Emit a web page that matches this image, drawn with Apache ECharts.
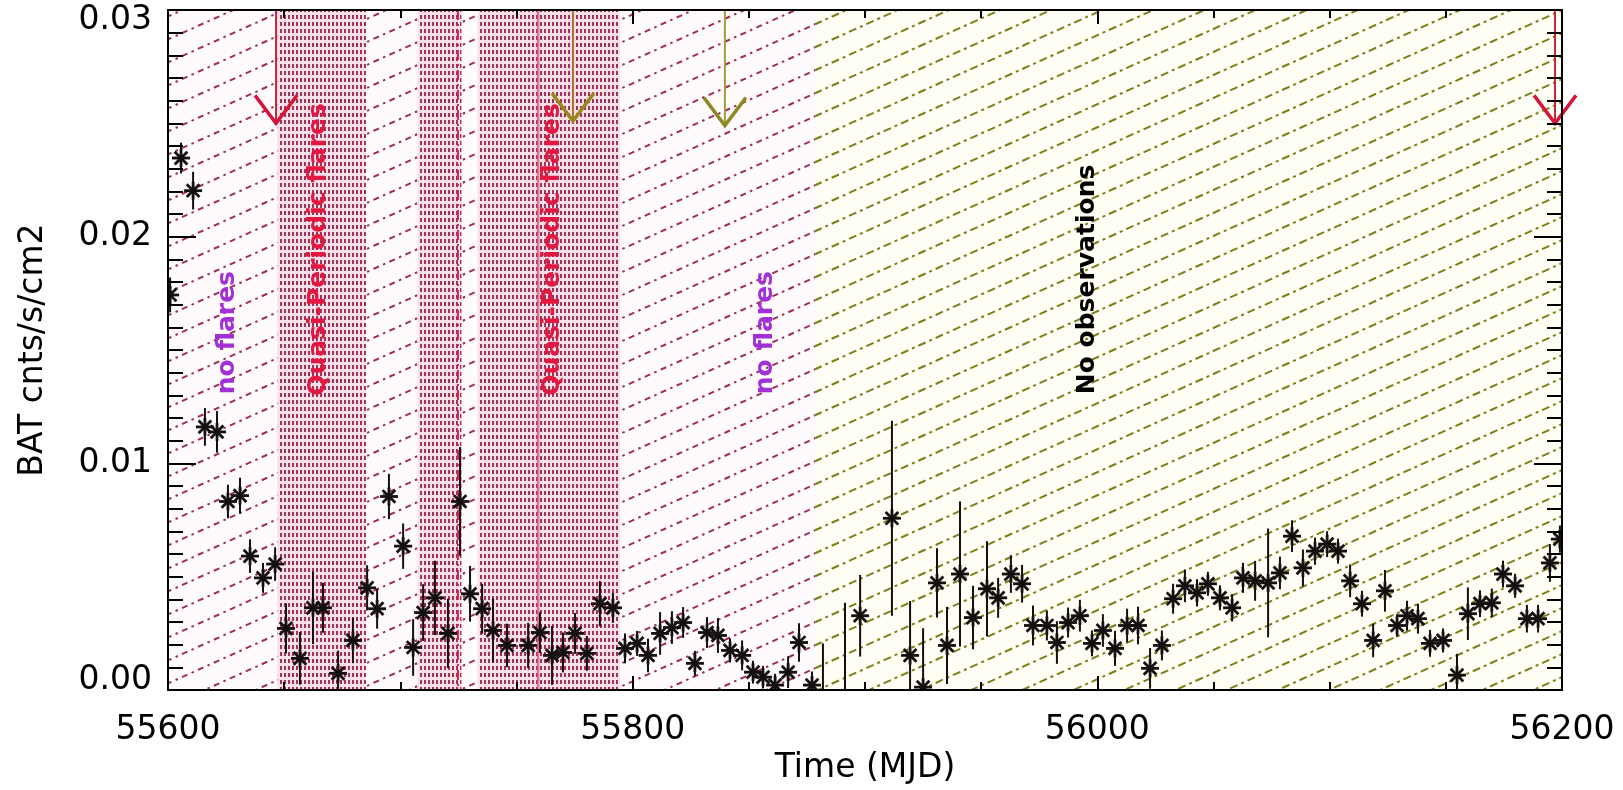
<!DOCTYPE html>
<html>
<head>
<meta charset="utf-8">
<script src="https://cdn.jsdelivr.net/npm/echarts@6/dist/echarts.min.js"></script>
<style>
  html, body { margin: 0; padding: 0; background: #ffffff; }
  #chart { width: 1623px; height: 790px; }
</style>
</head>
<body>
<div id="chart"></div>
<script>
// Swift/BAT light curve, MJD 55600 - 56200

// observation epochs (MJD)
const mjd = [
  55600.9, 55605.6, 55610.8, 55615.9, 55621.1, 55625.8, 55631.0, 55635.3, 55640.9, 55646.1,
  55650.8, 55656.8, 55662.4, 55666.7, 55673.2, 55679.6, 55685.7, 55690.0, 55695.1, 55701.2,
  55705.5, 55709.8, 55714.9, 55720.5, 55725.7, 55730.0, 55735.2, 55739.9, 55745.9, 55755.0,
  55760.1, 55765.3, 55770.0, 55775.2, 55780.3, 55785.9, 55791.5, 55796.7, 55801.9, 55806.6,
  55811.8, 55816.9, 55821.7, 55826.8, 55832.0, 55836.7, 55841.9, 55847.1, 55851.8, 55856.1,
  55861.3, 55866.9, 55871.6, 55877.2, 55881.9, 55891.4, 55897.9, 55911.6, 55919.4, 55925.0,
  55931.0, 55935.3, 55940.9, 55946.5, 55952.5, 55957.3, 55962.8, 55967.6, 55972.3, 55978.3,
  55982.6, 55987.4, 55992.5, 55997.7, 56002.4, 56007.6, 56012.8, 56017.5, 56022.7, 56027.8,
  56032.6, 56037.7, 56042.9, 56047.6, 56052.8, 56058.0, 56062.7, 56067.9, 56073.5, 56078.6,
  56083.8, 56088.5, 56093.7, 56098.9, 56103.6, 56108.8, 56113.9, 56118.7, 56123.8, 56129.0,
  56133.3, 56138.0, 56143.2, 56148.8, 56154.8, 56159.5, 56164.7, 56169.8, 56174.6, 56179.8,
  56184.9, 56189.7, 56194.8, 56199.1
];

// BAT count rate (cnts/s/cm2)
const rate = [
  0.01743, 0.02347, 0.02203, 0.01161, 0.01139, 0.00832, 0.00858, 0.00591, 0.00495, 0.00556,
  0.00272, 0.00140, 0.00363, 0.00363, 0.00074, 0.00219, 0.00451, 0.00359, 0.00854, 0.00635,
  0.00188, 0.00342, 0.00407, 0.00250, 0.00832, 0.00425, 0.00359, 0.00263, 0.00197, 0.00197,
  0.00254, 0.00153, 0.00166, 0.00250, 0.00162, 0.00381, 0.00363, 0.00184, 0.00206, 0.00153,
  0.00250, 0.00276, 0.00298, 0.00118, 0.00254, 0.00241, 0.00175, 0.00153, 0.00079, 0.00057,
  0.00022, 0.00079, 0.00210, 0.00022, -0.00080, -0.00120, 0.00328, 0.00758, 0.00153, 0.00013,
  0.00473, 0.00197, 0.00512, 0.00320, 0.00447, 0.00407, 0.00512, 0.00469, 0.00285, 0.00285,
  0.00210, 0.00298, 0.00328, 0.00206, 0.00263, 0.00184, 0.00285, 0.00285, 0.00096, 0.00197,
  0.00403, 0.00460, 0.00429, 0.00469, 0.00407, 0.00363, 0.00495, 0.00482, 0.00473, 0.00517,
  0.00679, 0.00539, 0.00613, 0.00644, 0.00613, 0.00482, 0.00381, 0.00219, 0.00438, 0.00285,
  0.00328, 0.00315, 0.00206, 0.00219, 0.00066, 0.00337, 0.00381, 0.00385, 0.00512, 0.00460,
  0.00315, 0.00315, 0.00561, 0.00666
];

// 1-sigma uncertainty on the rate
const rateErr = [
  0.00077, 0.00068, 0.00083, 0.00083, 0.00092, 0.00074, 0.00079, 0.00074, 0.00066, 0.00074,
  0.00110, 0.00116, 0.00160, 0.00110, 0.00100, 0.00100, 0.00100, 0.00088, 0.00100, 0.00100,
  0.00125, 0.00125, 0.00164, 0.00153, 0.00240, 0.00123, 0.00110, 0.00140, 0.00096, 0.00100,
  0.00090, 0.00130, 0.00088, 0.00090, 0.00077, 0.00100, 0.00066, 0.00066, 0.00055, 0.00074,
  0.00094, 0.00072, 0.00068, 0.00055, 0.00068, 0.00077, 0.00053, 0.00066, 0.00050, 0.00050,
  0.00050, 0.00070, 0.00085, 0.00060, 0.00286, 0.00505, 0.00180, 0.00430, 0.00240, 0.00260,
  0.00153, 0.00170, 0.00320, 0.00140, 0.00210, 0.00088, 0.00083, 0.00083, 0.00088, 0.00066,
  0.00094, 0.00066, 0.00070, 0.00057, 0.00072, 0.00077, 0.00074, 0.00083, 0.00090, 0.00066,
  0.00066, 0.00072, 0.00060, 0.00053, 0.00055, 0.00060, 0.00066, 0.00088, 0.00240, 0.00072,
  0.00070, 0.00081, 0.00060, 0.00057, 0.00055, 0.00072, 0.00057, 0.00074, 0.00092, 0.00050,
  0.00066, 0.00066, 0.00059, 0.00053, 0.00094, 0.00116, 0.00059, 0.00063, 0.00059, 0.00053,
  0.00061, 0.00061, 0.00083, 0.00060
];

// axis ranges and tick labels
const X_MIN = 55600, X_MAX = 56200, X_STEP = 200;
const Y_MIN = 0, Y_MAX = 0.03, Y_STEP = 0.01;
const xTickLabels = ['55600', '55800', '56000', '56200'];
const yTickLabels = ['0.00', '0.01', '0.02', '0.03'];

// hatched activity intervals: [start, end, kind]  (0 = flaring epoch, 1 = later epoch)
const hatchStart = [55600, 55878.5];
const hatchEnd   = [55878.5, 56200];
const hatchKind  = [0, 1];

// quasi-periodic flaring windows (dotted)
const qpStart = [55647.3, 55707.6, 55733.4];
const qpEnd   = [55685.2, 55726.3, 55794.5];

// vertical reference epochs: kind 0 = dash-dot, 1 = solid
const refDay  = [55724.8, 55759.3];
const refKind = [0, 1];

// downward arrows: epoch, tip level, colour kind
const arrowDay  = [55646.5, 55774.3, 55839.7, 56197.0];
const arrowTip  = [0.0250, 0.0251, 0.0249, 0.0250];
const arrowKind = [0, 1, 2, 0];

// vertical annotations: text, epoch, start level, colour kind
const noteText = ['no flares', 'Quasi-Periodic flares', 'Quasi-Periodic flares', 'no flares', 'No observations'];
const noteDay  = [55625.4, 55664.6, 55765.3, 55857.0, 55995.6];
const noteY    = [0.01305, 0.01298, 0.01298, 0.01305, 0.01305];
const noteKind = [0, 1, 1, 0, 2];

// ---------- styling ----------
const FONT = 'DejaVu Sans';
const HATCH_SLOPE = 0.45, HATCH_GAP = 23;
const hatchStyles = [
  { stroke: '#9c2f5a', dash: [2.5, 4.5, 6, 4.5], bg: '#fffbfc' },
  { stroke: '#7f7d1c', dash: [8, 4, 3, 4], bg: '#fefef4' }
];
const arrowStyles = [
  { shaft: '#c8243f', head: '#d4163c' },
  { shaft: '#b0702c', head: '#958a1e' },
  { shaft: '#a49c3c', head: '#8e8a22' }
];
const noteColors = ['#a230d6', '#e3173f', '#000000'];

// dotted fill for the quasi-periodic windows
function dotPattern() {
  const cv = document.createElement('canvas');
  cv.width = 4; cv.height = 7;
  const g = cv.getContext('2d');
  g.fillStyle = '#f9dfe8';
  g.fillRect(0, 0, 4, 7);
  g.fillStyle = '#9c3358';
  g.fillRect(0, 1, 2, 4);
  return cv;
}
const qpFill = { image: dotPattern(), repeat: 'repeat' };

function renderHatch(params, api) {
  const a = api.coord([api.value(0), Y_MAX]);
  const b = api.coord([api.value(1), Y_MIN]);
  const st = hatchStyles[api.value(2)];
  const x0 = a[0], x1 = b[0], y0 = a[1], y1 = b[1];
  const children = [{
    type: 'rect', shape: { x: x0, y: y0, width: x1 - x0, height: y1 - y0 },
    style: { fill: st.bg }
  }];
  const s = HATCH_SLOPE, g = HATCH_GAP, k = Math.sqrt(1 + s * s);
  const period = st.dash.reduce((p, q) => p + q, 0);
  const cMin = y0 + s * x0, cMax = y1 + s * x1;
  for (let c = Math.ceil(cMin / g) * g; c <= cMax; c += g) {
    const xa = Math.max(x0, (c - y1) / s);
    const xb = Math.min(x1, (c - y0) / s);
    if (xb - xa < 0.5) continue;
    children.push({
      type: 'line',
      shape: { x1: xa, y1: c - s * xa, x2: xb, y2: c - s * xb },
      style: { stroke: st.stroke, lineWidth: 2, lineDash: st.dash, lineDashOffset: (xa * k) % period }
    });
  }
  return { type: 'group', children };
}

function renderBand(params, api) {
  const a = api.coord([api.value(0), Y_MAX]);
  const b = api.coord([api.value(1), Y_MIN]);
  return {
    type: 'rect',
    shape: { x: a[0], y: a[1], width: b[0] - a[0], height: b[1] - a[1] },
    style: { fill: qpFill }
  };
}

function renderRef(params, api) {
  const a = api.coord([api.value(0), Y_MAX]);
  const b = api.coord([api.value(0), Y_MIN]);
  const dashed = api.value(1) === 0;
  return {
    type: 'line',
    shape: { x1: a[0], y1: a[1], x2: b[0], y2: b[1] },
    style: dashed
      ? { stroke: '#d3264c', lineWidth: 2, lineDash: [10, 4, 2, 4] }
      : { stroke: '#e4587a', lineWidth: 2.5, opacity: 0.8 }
  };
}

function renderArrow(params, api) {
  const top = api.coord([api.value(0), Y_MAX]);
  const tip = api.coord([api.value(0), api.value(1)]);
  const st = arrowStyles[api.value(2)];
  return {
    type: 'group',
    children: [
      { type: 'line', shape: { x1: top[0], y1: top[1], x2: tip[0], y2: tip[1] },
        style: { stroke: st.shaft, lineWidth: 2 } },
      { type: 'polyline', shape: { points: [[tip[0] - 21, tip[1] - 28], [tip[0], tip[1]], [tip[0] + 21, tip[1] - 28]] },
        style: { stroke: st.head, lineWidth: 3.5, fill: null } }
    ]
  };
}

function renderNote(params, api) {
  const p = api.coord([api.value(0), api.value(1)]);
  const i = params.dataIndex;
  return {
    type: 'text',
    x: p[0], y: p[1],
    rotation: Math.PI / 2,
    style: {
      text: noteText[i],
      fill: noteColors[noteKind[i]],
      font: 'bold 25px "' + FONT + '"',
      align: 'left',
      verticalAlign: 'middle'
    }
  };
}

function renderPoint(params, api) {
  const x = api.value(0), y = api.value(1), e = api.value(2);
  const c = api.coord([x, y]);
  const hi = api.coord([x, y + e]);
  const lo = api.coord([x, y - e]);
  const ink = '#141010';
  const children = [{
    type: 'line', shape: { x1: c[0], y1: hi[1], x2: c[0], y2: lo[1] },
    style: { stroke: ink, lineWidth: 2 }
  }];
  const r = 9;
  for (let a = 0; a < 4; a++) {
    const t = a * Math.PI / 4;
    const dx = r * Math.cos(t), dy = r * Math.sin(t);
    children.push({
      type: 'line', shape: { x1: c[0] - dx, y1: c[1] - dy, x2: c[0] + dx, y2: c[1] + dy },
      style: { stroke: ink, lineWidth: 2.8 }
    });
  }
  return { type: 'group', children };
}

const labelStyle = { fontFamily: FONT, fontSize: 33, color: '#000' };

const chart = echarts.init(document.getElementById('chart'), null, { renderer: 'canvas' });

const xBase = {
  type: 'value', min: X_MIN, max: X_MAX, interval: X_STEP, z: 10,
  axisLine: { show: true, onZero: false, lineStyle: { color: '#000', width: 2 } },
  axisTick: { show: true, inside: true, length: 14, lineStyle: { color: '#000', width: 2 } },
  minorTick: { show: true, splitNumber: 4, length: 8, lineStyle: { color: '#000', width: 2 } },
  splitLine: { show: false }
};
const yBase = {
  type: 'value', min: Y_MIN, max: Y_MAX, interval: Y_STEP, z: 10,
  axisLine: { show: true, onZero: false, lineStyle: { color: '#000', width: 2 } },
  axisTick: { show: true, inside: true, length: 28, lineStyle: { color: '#000', width: 2 } },
  minorTick: { show: true, splitNumber: 10, length: 15, lineStyle: { color: '#000', width: 2 } },
  splitLine: { show: false }
};

const option = {
  animation: false,
  backgroundColor: '#ffffff',
  grid: { left: 168, right: 61, top: 10, bottom: 95, containLabel: false },
  xAxis: [
    Object.assign({}, xBase, {
      position: 'bottom',
      name: 'Time (MJD)', nameLocation: 'middle', nameGap: 54,
      nameTextStyle: { fontFamily: FONT, fontSize: 33, color: '#000' },
      axisLabel: Object.assign({}, labelStyle, {
        margin: 24,
        formatter: v => xTickLabels[Math.round((v - X_MIN) / X_STEP)]
      })
    }),
    Object.assign({}, xBase, { position: 'top', axisLabel: { show: false } })
  ],
  yAxis: [
    Object.assign({}, yBase, {
      position: 'left',
      name: 'BAT cnts/s/cm2', nameLocation: 'middle', nameGap: 118, nameRotate: 90,
      nameTextStyle: { fontFamily: FONT, fontSize: 33, color: '#000' },
      axisLabel: Object.assign({}, labelStyle, {
        margin: 16,
        formatter: v => {
          const i = Math.round((v - Y_MIN) / Y_STEP);
          if (i === 0) return '{lo|' + yTickLabels[i] + '}';
          if (i === yTickLabels.length - 1) return '{hi|' + yTickLabels[i] + '}';
          return yTickLabels[i];
        },
        rich: {
          lo: Object.assign({}, labelStyle, { padding: [0, 0, 20, 0] }),
          hi: Object.assign({}, labelStyle, { padding: [20, 0, 0, 0] })
        }
      })
    }),
    Object.assign({}, yBase, { position: 'right', axisLabel: { show: false } })
  ],
  series: [
    {
      type: 'custom', name: 'epochs', renderItem: renderHatch, clip: true, z: 1, silent: true,
      data: hatchStart.map((s, i) => [s, hatchEnd[i], hatchKind[i]])
    },
    {
      type: 'custom', name: 'quasi-periodic', renderItem: renderBand, clip: true, z: 2, silent: true,
      data: qpStart.map((s, i) => [s, qpEnd[i]])
    },
    {
      type: 'custom', name: 'reference', renderItem: renderRef, clip: true, z: 3, silent: true,
      data: refDay.map((d, i) => [d, refKind[i]])
    },
    {
      type: 'custom', name: 'notes', renderItem: renderNote, clip: true, z: 4, silent: true,
      data: noteDay.map((d, i) => [d, noteY[i]])
    },
    {
      type: 'custom', name: 'arrows', renderItem: renderArrow, clip: false, z: 5, silent: true,
      data: arrowDay.map((d, i) => [d, arrowTip[i], arrowKind[i]])
    },
    {
      type: 'custom', name: 'BAT rate', renderItem: renderPoint, clip: true, z: 6, silent: true,
      data: mjd.map((d, i) => [d, rate[i], rateErr[i]])
    }
  ]
};

chart.setOption(option);
</script>
</body>
</html>
